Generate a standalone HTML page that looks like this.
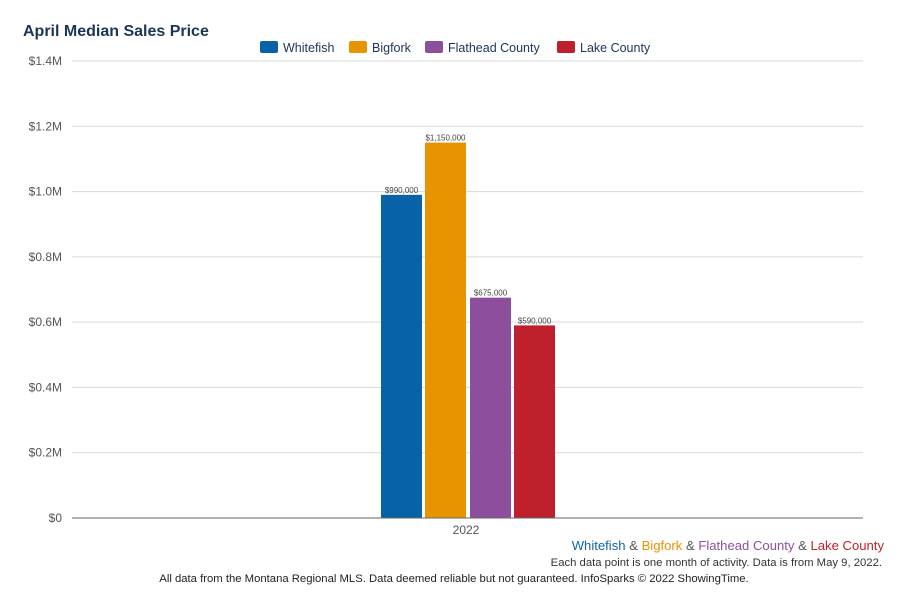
<!DOCTYPE html>
<html><head><meta charset="utf-8"><style>
body{margin:0;width:900px;height:600px;background:#fff;font-family:"Liberation Sans",sans-serif;overflow:hidden}
</style></head><body>
<svg width="900" height="600" xmlns="http://www.w3.org/2000/svg" id="chart">
<text x="23" y="36" font-size="16" font-weight="bold" fill="#1c3557">April Median Sales Price</text>
<g id="legend"></g>
<g id="grid"></g>
<g id="bars"></g>
<line x1="72" x2="863" y1="518" y2="518" stroke="#666" stroke-width="1"/>
<text x="466" y="534" font-size="12" fill="#555" text-anchor="middle">2022</text>
<text x="884" y="550" font-size="13.1" text-anchor="end"><tspan fill="#1565a8">Whitefish</tspan><tspan fill="#555"> &amp; </tspan><tspan fill="#e89300">Bigfork</tspan><tspan fill="#555"> &amp; </tspan><tspan fill="#8c4f9c">Flathead County</tspan><tspan fill="#555"> &amp; </tspan><tspan fill="#c0202e">Lake County</tspan></text>
<text x="882" y="566" font-size="11.3" fill="#333" text-anchor="end">Each data point is one month of activity. Data is from May 9, 2022.</text>
<text x="454" y="582" font-size="11.3" fill="#222" text-anchor="middle">All data from the Montana Regional MLS. Data deemed reliable but not guaranteed. InfoSparks © 2022 ShowingTime.</text>
</svg>
<script>
const categories=["Whitefish","Bigfork","Flathead County","Lake County"];
const values=[990000,1150000,675000,590000];
const valueLabels=["$990,000","$1,150,000","$675,000","$590,000"];
const colors=["#0762a8","#e89300","#8d4f9c","#bd1f2d"];
const yTicks=[0,200000,400000,600000,800000,1000000,1200000,1400000];
const yTickLabels=["$0","$0.2M","$0.4M","$0.6M","$0.8M","$1.0M","$1.2M","$1.4M"];
const legendX=[260,349,425,557];
const NS="http://www.w3.org/2000/svg";
function y(v){return 518-v/1400000*457;}
function mk(t,a,p){const e=document.createElementNS(NS,t);for(const k in a)e.setAttribute(k,a[k]);p.appendChild(e);return e;}
const grid=document.getElementById('grid');
yTicks.forEach((v,i)=>{
  if(v>0){const l=mk('line',{x1:72,x2:863,y1:y(v),y2:y(v),stroke:'#d9d9d9','stroke-width':1},grid);
  
  }
  const t=mk('text',{x:62,y:y(v)+4,'font-size':12,fill:'#555','text-anchor':'end'},grid);
  t.textContent=yTickLabels[i];
  
  
});
const bars=document.getElementById('bars');
const bx=[381,425,470,514];
values.forEach((v,i)=>{
  const r=mk('rect',{x:bx[i],y:y(v),width:41,height:518-y(v),fill:colors[i]},bars);
  
  
  const t=mk('text',{x:bx[i]+20.5,y:y(v)-2,'font-size':8,fill:'#444','text-anchor':'middle'},bars);
  t.textContent=valueLabels[i];
  
  
});
const lg=document.getElementById('legend');
categories.forEach((c,i)=>{
  const g=mk('g',{},lg);
  
  
  mk('rect',{x:legendX[i],y:41,width:18,height:12,rx:2,fill:colors[i]},g);
  const t=mk('text',{x:legendX[i]+23,y:52,'font-size':12.5,fill:'#1c3557'},g);
  t.textContent=c;
});
</script>
</body></html>
